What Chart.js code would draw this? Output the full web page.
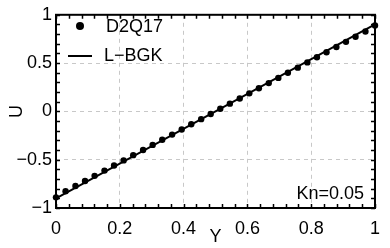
<!DOCTYPE html>
<html>
<head>
<meta charset="utf-8">
<script src="https://cdn.jsdelivr.net/npm/chart.js@4"></script>
<style>
  html, body { margin: 0; padding: 0; background: #fff; }
</style>
</head>
<body>
<canvas id="uChart" width="390" height="248"></canvas>
<script>
// D2Q17 points (Y position, U velocity)
const yPos = [0, 0.030, 0.061, 0.091, 0.121, 0.152, 0.182, 0.212, 0.242, 0.273, 0.303, 0.333,
  0.364, 0.394, 0.424, 0.455, 0.485, 0.515, 0.545, 0.576, 0.606, 0.636, 0.667, 0.697,
  0.727, 0.758, 0.788, 0.818, 0.848, 0.879, 0.909, 0.939, 0.970, 1.0];
const uD2Q17 = [-0.89, -0.827, -0.773, -0.720, -0.667, -0.613, -0.560, -0.507, -0.453, -0.400,
  -0.347, -0.293, -0.240, -0.187, -0.133, -0.080, -0.027, 0.027, 0.080, 0.133, 0.187,
  0.240, 0.293, 0.347, 0.400, 0.453, 0.507, 0.560, 0.613, 0.667, 0.720, 0.773, 0.827, 0.89];

// L-BGK solution
const lbgkY = [0, 1];
const lbgkU = [-0.9, 0.9];

const seriesNames = ['D2Q17', 'L\u2212BGK'];
const noteText = 'Kn=0.05';
const xTitle = 'Y';
const yTitle = 'U';

const FONT = { family: '"Liberation Sans", Arial, Helvetica, sans-serif', size: 18 };

function minus(v) {
    return String(Number(v.toFixed(2))).replace('-', '\u2212');
}

const framePlugin = {
    id: 'frame',
    beforeDatasetsDraw(chart) {
        const {ctx, chartArea: a, scales} = chart;
        const x = scales.x, y = scales.y;
        ctx.save();
        ctx.strokeStyle = '#000';
        ctx.lineWidth = 1.5;
        ctx.beginPath();
        for (let i = 0; i <= 25; i++) {
            const px = Math.round(x.getPixelForValue(i * 0.04)) + 0.5;
            ctx.moveTo(px, a.bottom); ctx.lineTo(px, a.bottom - 4);
            ctx.moveTo(px, a.top); ctx.lineTo(px, a.top + 4);
        }
        for (let i = 0; i <= 20; i++) {
            const py = Math.round(y.getPixelForValue(-1 + i * 0.1)) + 0.5;
            ctx.moveTo(a.left, py); ctx.lineTo(a.left + 4, py);
            ctx.moveTo(a.right, py); ctx.lineTo(a.right - 4, py);
        }
        ctx.stroke();
        ctx.lineWidth = 2;
        ctx.strokeRect(a.left, a.top, a.right - a.left, a.bottom - a.top);
        ctx.restore();
    },
    afterDraw(chart) {
        const ctx = chart.ctx;
        ctx.save();
        ctx.fillStyle = '#000';
        ctx.strokeStyle = '#000';
        ctx.font = FONT.size + 'px ' + FONT.family;
        ctx.textBaseline = 'middle';
        // legend
        ctx.beginPath();
        ctx.arc(80, 26, 4, 0, Math.PI * 2);
        ctx.fill();
        ctx.fillText(seriesNames[0], 106, 27);
        ctx.lineWidth = 2;
        ctx.beginPath();
        ctx.moveTo(68, 56); ctx.lineTo(92, 56);
        ctx.stroke();
        ctx.fillText(seriesNames[1], 104, 56);
        // note
        ctx.textAlign = 'right';
        ctx.fillText(noteText, 364, 194);
        ctx.restore();
    }
};

const ctx = document.getElementById('uChart').getContext('2d');
new Chart(ctx, {
    type: 'scatter',
    data: {
        datasets: [{
            label: seriesNames[0],
            data: yPos.map((v, i) => ({x: v, y: uD2Q17[i]})),
            backgroundColor: '#000',
            borderColor: '#000',
            pointRadius: 3.2,
            pointBorderWidth: 0,
            showLine: false,
            clip: false
        }, {
            label: seriesNames[1],
            data: lbgkY.map((v, i) => ({x: v, y: lbgkU[i]})),
            borderColor: '#000',
            borderWidth: 2,
            pointRadius: 0,
            showLine: true,
            fill: false
        }]
    },
    options: {
        responsive: false,
        animation: false,
        devicePixelRatio: 1,
        layout: { padding: { top: 11, right: 14, left: 0, bottom: 0 } },
        plugins: {
            legend: { display: false },
            tooltip: { enabled: false }
        },
        scales: {
            x: {
                type: 'linear',
                min: 0,
                max: 1,
                afterFit: (s) => { s.height = 40; },
                ticks: {
                    stepSize: 0.2,
                    padding: 10,
                    color: '#000',
                    font: FONT,
                    maxRotation: 0,
                    callback: (v) => minus(v)
                },
                grid: { color: '#c8c8c8', lineWidth: 1, drawTicks: false, tickLength: 0 },
                border: { display: false, dash: [4, 4] },
                title: { display: true, text: xTitle, color: '#000', font: FONT, padding: { top: 0, bottom: 0 } }
            },
            y: {
                type: 'linear',
                min: -1,
                max: 1,
                afterFit: (s) => { s.width = 56; },
                ticks: {
                    stepSize: 0.5,
                    padding: 4,
                    color: '#000',
                    font: FONT,
                    callback: (v) => minus(v)
                },
                grid: { color: '#c8c8c8', lineWidth: 1, drawTicks: false, tickLength: 0 },
                border: { display: false, dash: [4, 4] },
                title: { display: true, text: yTitle, color: '#000', font: FONT, padding: { top: 6, bottom: 4 } }
            }
        }
    },
    plugins: [framePlugin]
});
</script>
</body>
</html>
